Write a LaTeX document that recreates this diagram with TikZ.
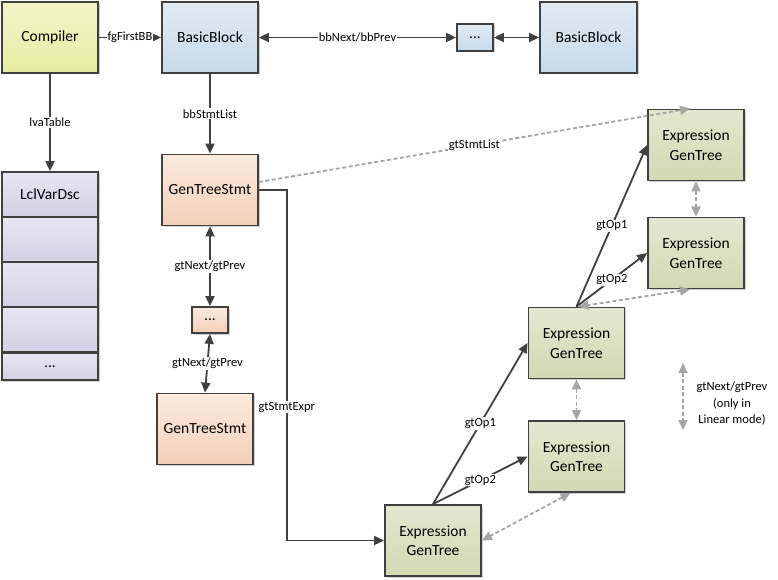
\documentclass[tikz,border=0pt]{standalone}
\usepackage{fontspec}
\setmainfont{Carlito}
\usetikzlibrary{arrows.meta,shadows}
\definecolor{bd}{RGB}{64,64,64}
\definecolor{yelT}{RGB}{244,246,200}
\definecolor{yelB}{RGB}{230,235,160}
\definecolor{bluT}{RGB}{225,235,244}
\definecolor{bluB}{RGB}{200,218,234}
\definecolor{lavT}{RGB}{232,230,242}
\definecolor{lavB}{RGB}{212,207,229}
\definecolor{pchT}{RGB}{251,234,222}
\definecolor{pchB}{RGB}{243,208,184}
\definecolor{grnT}{RGB}{226,232,208}
\definecolor{grnB}{RGB}{208,218,178}
\definecolor{dg}{RGB}{165,165,165}
\begin{document}
\begin{tikzpicture}[x=1pt,y=-1pt,
  box/.style={draw=bd, line width=1.8pt, minimum width=96pt, minimum height=71pt,
    align=center, inner sep=2pt, font=\fontsize{15.5}{19.5}\selectfont,
    drop shadow={shadow xshift=1.5pt,shadow yshift=-1.5pt,opacity=0.3,fill=black!60}},
  yel/.style={top color=yelT, bottom color=yelB},
  blu/.style={top color=bluT, bottom color=bluB},
  lav/.style={top color=lavT, bottom color=lavB},
  pch/.style={top color=pchT, bottom color=pchB},
  grn/.style={top color=grnT, bottom color=grnB},
  conn/.style={draw=bd, line width=1.8pt, -{Triangle[length=10pt,width=9pt]}},
  bidir/.style={draw=bd, line width=1.8pt, {Triangle[length=10pt,width=9pt]}-{Triangle[length=10pt,width=9pt]}},
  dshline/.style={draw=dg, line width=1.8pt, dash pattern=on 4pt off 2.5pt},
  dsh/.style={dshline, {Triangle[length=10pt,width=9pt]}-{Triangle[length=10pt,width=9pt]}},
  dshone/.style={dshline, -{Triangle[length=10pt,width=9pt]}},
  lbl/.style={fill=white, inner sep=1pt, text=black, font=\fontsize{12.5}{16.5}\selectfont}
]
\useasboundingbox (0,0) rectangle (778,580);

% top row
\node[box,yel] (comp) at (50,37.5) {Compiler};
\node[box,blu] (bb1) at (210,37.5) {BasicBlock};
\node[box,blu,minimum width=36pt,minimum height=27pt] (bbd) at (475,37.5) {...};
\node[box,blu,minimum width=97pt] (bb2) at (588.5,37.5) {BasicBlock};

% LclVarDsc table
\node[box,lav,minimum height=45pt] (lv0) at (50,194.5) {LclVarDsc};
\node[box,lav,minimum height=45pt] (lv1) at (50,239.5) {};
\node[box,lav,minimum height=45pt] (lv2) at (50,284.5) {};
\node[box,lav,minimum height=45pt] (lv3) at (50,329.5) {};
\node[box,lav,minimum height=27pt] (lv4) at (50,366.5) {...};

% statements
\node[box,pch] (gts1) at (210,190) {GenTreeStmt};
\node[box,pch,minimum width=36pt,minimum height=26pt] (gtd) at (210,320) {...};
\node[box,pch] (gts2) at (205,429) {GenTreeStmt};

% expression trees
\node[box,grn] (root) at (433,540.5) {Expression\\GenTree};
\node[box,grn] (em1) at (576.5,343) {Expression\\GenTree};
\node[box,grn] (em2) at (576.5,456.5) {Expression\\GenTree};
\node[box,grn] (et1) at (696,145) {Expression\\GenTree};
\node[box,grn] (et2) at (696,253) {Expression\\GenTree};

% connectors
\draw[conn] (comp) -- node[lbl]{fgFirstBB} (bb1);
\draw[bidir] (bbd) -- node[lbl]{bbNext/bbPrev} (bb1);
\draw[bidir] (bbd) -- (bb2);
\draw[conn] (comp) -- node[lbl]{lvaTable} (lv0);
\draw[conn] (bb1) -- node[lbl]{bbStmtList} (gts1);
\draw[bidir] (gts1) -- node[lbl]{gtNext/gtPrev} (gtd);
\draw[bidir] (gtd.south) -- node[lbl]{gtNext/gtPrev} (gts2.north);
\draw[conn] (gts1.east) -- ++(28,0) |- node[lbl,pos=0.31]{gtStmtExpr} (root.west);

\draw[conn] (root.north) -- node[lbl]{gtOp1} (em1.west);
\draw[conn] (root.north) -- node[lbl]{gtOp2} (em2.west);
\draw[conn] (em1.north) -- node[lbl]{gtOp1} (et1.west);
\draw[conn] (em1.north) -- node[lbl]{gtOp2} (et2.west);

% dashed links
\draw[dshone] ([yshift=8pt]gts1.east) -- node[lbl]{gtStmtList} ([xshift=-6pt]et1.north);
\draw[dsh] (et1) -- (et2);
\draw[dsh] ([xshift=-6pt]et2.south) -- ([xshift=2pt]em1.north);
\draw[dsh] (em1) -- (em2);
\draw[dsh] ([xshift=-6pt]em2.south) -- (root.east);

% legend
\coordinate (lgA) at (683,363);
\coordinate (lgB) at (683,430);
\draw[dsh] (lgA) -- (lgB);
\node[lbl,align=center] (lgt) at (732,404) {gtNext/gtPrev\\(only in\\Linear mode)};
\end{tikzpicture}
\end{document}
